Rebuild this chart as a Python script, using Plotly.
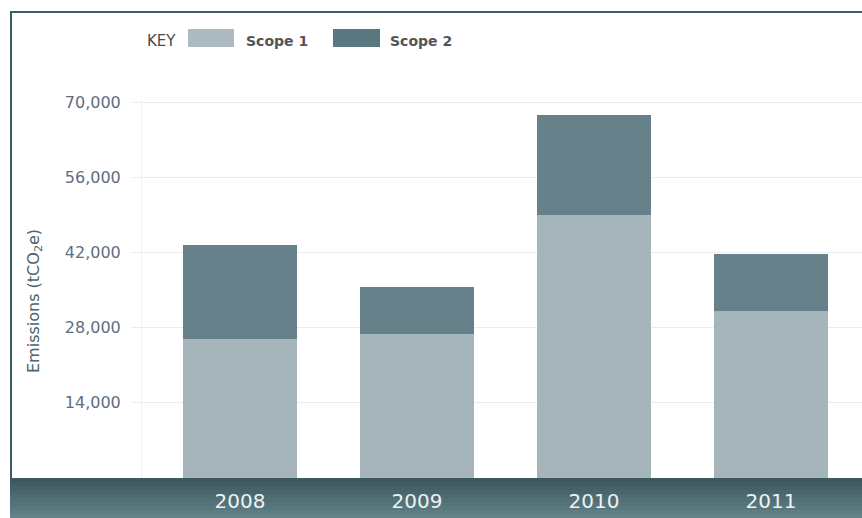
import plotly.graph_objects as go

years = ["2008", "2009", "2010", "2011"]
scope1 = [25900, 26900, 49000, 31200]
scope2 = [17600, 8700, 18600, 10600]
ytick_vals = [14000, 28000, 42000, 56000, 70000]
ytick_text = ["14,000", "28,000", "42,000", "56,000", "70,000"]

W, H = 862, 518
L, R, T, B = 142, 0, 100, 40
PW, PH = W - L - R, H - T - B


def px(x):
    return (x - L) / PW


def py(y):
    return (H - B - y) / PH


fig = go.Figure()
fig.add_trace(go.Bar(x=years, y=scope1, name="Scope 1",
                     marker=dict(color="#a6b5ba", line=dict(width=0))))
fig.add_trace(go.Bar(x=years, y=scope2, name="Scope 2",
                     marker=dict(color="#67818a", line=dict(width=0))))

shapes = []
# bottom band with faux gradient
top_c = (0x3d, 0x59, 0x5f)
bot_c = (0x62, 0x82, 0x88)
n = 10
y0, y1 = H - B, H
for i in range(n):
    t = i / (n - 1)
    c = tuple(int(top_c[k] + (bot_c[k] - top_c[k]) * t) for k in range(3))
    ya = y0 + (y1 - y0) * i / n
    yb = y0 + (y1 - y0) * (i + 1) / n + 0.5
    shapes.append(dict(type="rect", xref="paper", yref="paper",
                       x0=px(10), x1=px(W + 2), y0=py(ya), y1=py(yb),
                       fillcolor="rgb(%d,%d,%d)" % c, line=dict(width=0),
                       layer="below"))
# frame lines
shapes.append(dict(type="line", xref="paper", yref="paper",
                   x0=px(10), x1=px(W + 2), y0=py(12), y1=py(12),
                   line=dict(color="#3d5e66", width=2), layer="above"))
shapes.append(dict(type="line", xref="paper", yref="paper",
                   x0=px(11), x1=px(11), y0=py(11), y1=py(H - B),
                   line=dict(color="#3d5e66", width=2), layer="above"))
# legend swatches
shapes.append(dict(type="rect", xref="paper", yref="paper",
                   x0=px(188), x1=px(234), y0=py(47), y1=py(29),
                   fillcolor="#adbbc0", line=dict(width=0)))
shapes.append(dict(type="rect", xref="paper", yref="paper",
                   x0=px(333), x1=px(380), y0=py(47), y1=py(29),
                   fillcolor="#5a767e", line=dict(width=0)))

annotations = [
    dict(text="KEY", xref="paper", yref="paper", x=px(145), y=py(41),
         xanchor="left", yanchor="middle", showarrow=False,
         font=dict(family="DejaVu Sans", size=15, color="#4a4a4a")),
    dict(text="<b>Scope 1</b>", xref="paper", yref="paper", x=px(244), y=py(41),
         xanchor="left", yanchor="middle", showarrow=False,
         font=dict(family="DejaVu Sans", size=14, color="#555555")),
    dict(text="<b>Scope 2</b>", xref="paper", yref="paper", x=px(388), y=py(41),
         xanchor="left", yanchor="middle", showarrow=False,
         font=dict(family="DejaVu Sans", size=14, color="#555555")),
    dict(text="Emissions (tCO<sub>2</sub>e)", xref="paper", yref="paper",
         x=px(34), y=py(301), textangle=-90, xanchor="center", yanchor="middle",
         showarrow=False,
         font=dict(family="DejaVu Sans", size=16, color="#48656c")),
]

fig.update_layout(
    width=W, height=H,
    margin=dict(l=L, r=R, t=T, b=B, pad=0),
    barmode="stack", bargap=0.356,
    paper_bgcolor="white", plot_bgcolor="white",
    showlegend=False,
    shapes=shapes, annotations=annotations,
    xaxis=dict(type="category", range=[-0.554, 3.514], showgrid=False,
               showline=False, zeroline=False, ticks="",
               ticklabelstandoff=9,
               tickfont=dict(family="DejaVu Sans", size=20, color="#eef1f2")),
    yaxis=dict(range=[0, 70420], tickvals=ytick_vals, ticktext=ytick_text,
               showgrid=True, gridcolor="#ececec", gridwidth=1,
               showline=True, linecolor="#efefef", linewidth=1,
               zeroline=False, ticks="outside", ticklen=10,
               tickcolor="#ececec", ticklabelstandoff=7,
               tickfont=dict(family="DejaVu Sans", size=16, color="#5e6e80")),
)

fig.write_html("out.html")
